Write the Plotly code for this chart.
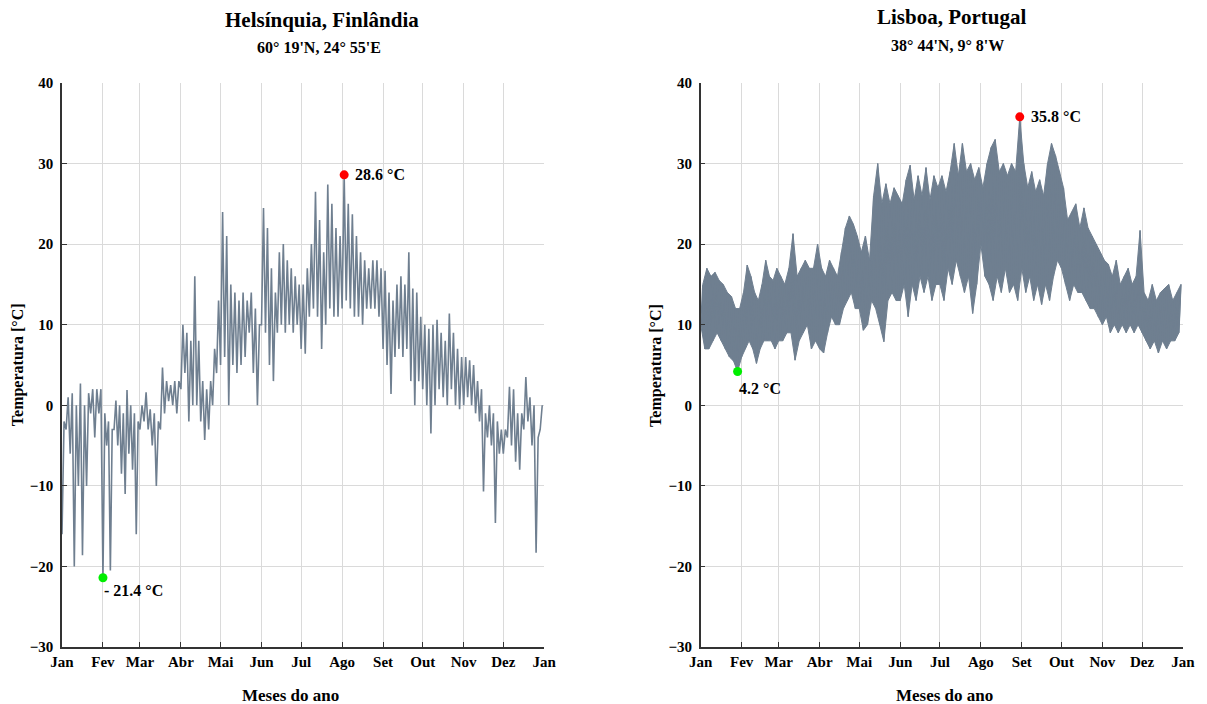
import plotly.graph_objects as go

# ---------------- data ----------------
month_days = [31, 28, 31, 30, 31, 30, 31, 31, 30, 31, 30, 31]
month_labels = ["Jan", "Fev", "Mar", "Abr", "Mai", "Jun", "Jul", "Ago", "Set", "Out", "Nov", "Dez", "Jan"]
y_ticks = [-30, -20, -10, 0, 10, 20, 30, 40]

# Helsinki: low / high envelope, 10 samples per month (~3 days each)
hel_low = [
    [-16, -3, -6, -20, -10, -18.6, -10, -1, -4, -1],        # Jan
    [-21.4, -5, -20.5, -3, -5, -8.5, -11, -6, -8, -16],     # Fev
    [-3, -2, -3, -5, -10, -3, -1, 0.5, 0, -1],              # Mar
    [2, 4, -2, 0, 0, -2, -4.3, -3, 0, 4],                   # Abr
    [5, 6, 0, 5, 4, 5, 6, 9, 4, 0],                         # Mai
    [10, 9, 5, 3, 9, 10, 9, 10, 9, 10],                     # Jun
    [7, 6.4, 11, 12, 11, 7, 10, 12, 11, 11],                # Jul
    [12, 13, 12, 11, 11, 10, 12, 12, 12, 11],               # Ago
    [7, 5, 1.4, 6, 7, 6, 7, 3, 0, 3],                       # Set
    [2, 0, -3.5, 0, 2, 1, 0, 2, 0, -0.5],                   # Out
    [0, 1, 0, -1, -2, -10.7, -4, -5, -14.6, -6],            # Nov
    [-6, -4, -5, -7, -8, -3, -2, -5, -18.3, -3],            # Dez
]
hel_high = [
    [-2, 1, 1.5, 0, 2.7, 0, 1.5, 2, 2, 2],
    [-1, -2, -3, 0.6, 0, -1, 1.9, 0, -1, -2],
    [0, 1.6, -0.5, -1, -2, 4.7, 3, 2.5, 3, 3],
    [10, 9, 8, 16, 8, 3, 2, 3, 7, 13],
    [24, 21, 15, 14, 13, 14, 13, 14, 12, 10],
    [24.5, 22, 17, 14, 19, 20, 18, 17, 16, 15],
    [15, 17, 20, 26.5, 23, 19, 27.4, 25, 22, 21],
    [28.6, 25, 23.7, 21, 19, 18, 17, 18, 18, 17],
    [16.7, 14, 13, 15, 16, 15, 19, 14.5, 14, 11],
    [10, 9.5, 10, 10.6, 9, 8, 11.4, 9, 7, 6],
    [6, 5.6, 5, 3, 2, -1, 0, -1, -2, -3],
    [-3, 2.3, 2, -1, -1, 3.5, 1, 0, -4, 0],
]

# Lisbon: low / high envelope, 10 samples per month
lis_low = [
    [10, 7, 7, 8, 9, 8, 7, 6, 5.5, 4.2],
    [6, 7, 8, 7, 5.2, 7, 8, 8, 8, 7],
    [8, 8, 9, 9, 5.6, 8, 9, 10, 7, 8],
    [7, 6.5, 9, 11, 10, 10, 12, 13, 14, 12],
    [12, 9.3, 10, 13, 12, 10, 7.9, 13, 14, 13],
    [13, 15, 11, 15, 13, 16, 14, 16, 13, 15],
    [15, 13, 17, 15, 18, 16, 14, 16, 11.4, 15],
    [20, 16, 15, 13, 16, 14, 17, 14, 15, 13],
    [17, 14, 16, 13, 15, 12.5, 15, 13, 16, 18],
    [17, 15, 13, 15, 14, 14, 13, 12, 12, 11],
    [10, 11, 9, 10, 9, 10, 9, 10, 9, 10],
    [9, 8, 7, 8, 6.5, 8, 7, 8, 8, 9],
]
lis_high = [
    [15, 17, 16, 16.5, 15.5, 15, 14, 13.5, 12, 12],
    [14, 17.4, 16, 14, 13, 15, 18, 16, 15.5, 17],
    [16, 15, 17, 21.3, 16, 17, 18, 17, 17, 20],
    [17, 16, 18, 17, 16, 19, 22, 23.5, 22.5, 21],
    [19, 21, 18, 26, 30, 25, 27.5, 25, 27, 26],
    [25, 28, 29.8, 25.5, 28.5, 26, 29.5, 25.5, 28.5, 27],
    [28.5, 26.5, 29, 32.5, 28.5, 32.5, 29, 30, 28, 29.5],
    [27, 30, 32, 33, 29, 30, 28.5, 30, 29, 35.8],
    [30, 27, 29, 26.5, 28, 26, 30, 32.5, 31, 29],
    [27, 23, 24, 25, 22, 24.5, 22, 21, 20, 19],
    [18, 17.5, 16, 18, 15, 16, 17, 15, 16, 21.7],
    [14, 13, 15, 13, 14, 14.5, 15, 13, 14, 15],
]

titles = ["Helsínquia, Finlândia", "Lisboa, Portugal"]
subtitles = ["60° 19'N, 24° 55'E", "38° 44'N, 9° 8'W"]

# ---------------- helpers ----------------
month_starts = [0]
for d in month_days:
    month_starts.append(month_starts[-1] + d)


def zigzag(lows, highs):
    xs, ys, xl, xh, vl, vh = [], [], [], [], [], []
    for m, nd in enumerate(month_days):
        step = nd / len(lows[m])
        for i in range(len(lows[m])):
            a = month_starts[m] + i * step
            b = month_starts[m] + (i + 0.5) * step
            xs += [a, b]
            ys += [lows[m][i], highs[m][i]]
            xl.append(a); vl.append(lows[m][i])
            xh.append(b); vh.append(highs[m][i])
    return xs, ys, xl, vl, xh, vh


def fmt(v):
    return ("- " if v < 0 else "") + f"{abs(v):.1f} °C"


LINE = "#6f7f90"
FONT = "Liberation Serif"

fig = go.Figure()
annotations = []

for k, (lows, highs) in enumerate([(hel_low, hel_high), (lis_low, lis_high)]):
    xa = "x" if k == 0 else "x2"
    ya = "y" if k == 0 else "y2"
    xs, ys, xl, vl, xh, vh = zigzag(lows, highs)
    if k == 1:
        # dense daily band: fill between the low and high envelopes
        fig.add_trace(go.Scatter(x=xl + xh[::-1], y=vl + vh[::-1], mode="lines", fill="toself",
                                 fillcolor=LINE, line=dict(color=LINE, width=1),
                                 xaxis=xa, yaxis=ya, showlegend=False, hoverinfo="skip"))
    fig.add_trace(go.Scatter(x=xs, y=ys, mode="lines", xaxis=xa, yaxis=ya,
                             line=dict(color=LINE, width=1.6 if k == 0 else 1.3), showlegend=False,
                             hoverinfo="skip"))
    imax = max(range(len(vh)), key=lambda i: vh[i])
    imin = min(range(len(vl)), key=lambda i: vl[i])
    fig.add_trace(go.Scatter(x=[xh[imax]], y=[vh[imax]], mode="markers", xaxis=xa, yaxis=ya,
                             marker=dict(color="#ff0000", size=9), showlegend=False))
    fig.add_trace(go.Scatter(x=[xl[imin]], y=[vl[imin]], mode="markers", xaxis=xa, yaxis=ya,
                             marker=dict(color="#00ee00", size=9), showlegend=False))
    lab_font = dict(family=FONT, size=16, color="black")
    annotations.append(dict(x=xh[imax], y=vh[imax], xref=xa, yref=ya, text="<b>" + fmt(vh[imax]) + "</b>",
                            showarrow=False, xanchor="left", yanchor="middle", xshift=9, font=lab_font))
    annotations.append(dict(x=xl[imin], y=vl[imin], xref=xa, yref=ya, text="<b>" + fmt(vl[imin]) + "</b>",
                            showarrow=False, xanchor="left", yanchor="top", xshift=-1,
                            yshift=-2 if k == 0 else -7, font=lab_font))

# titles and axis titles (paper coords; plot area 62..1187 x 83..647 px)
def px(xp):
    return (xp - 62) / 1125.0


def py(yp):
    return (647 - yp) / 564.0


title_pos = [(323, 20, 320, 47), (955, 17, 951, 45)]
for k in range(2):
    tx, ty, sx, sy = title_pos[k]
    annotations.append(dict(x=px(tx), y=py(ty), xref="paper", yref="paper", showarrow=False,
                            text="<b>" + titles[k] + "</b>", xanchor="center", yanchor="middle",
                            font=dict(family=FONT, size=21, color="black")))
    annotations.append(dict(x=px(sx), y=py(sy), xref="paper", yref="paper", showarrow=False,
                            text="<b>" + subtitles[k] + "</b>", xanchor="center", yanchor="middle",
                            font=dict(family=FONT, size=16, color="black")))
    ylx = 18 if k == 0 else 658
    annotations.append(dict(x=px(ylx), y=0.5, xref="paper", yref="paper", showarrow=False,
                            text="<b>Temperatura [°C]</b>", textangle=-90, xanchor="center", yanchor="middle",
                            font=dict(family=FONT, size=16, color="black")))
    xlx = 291 if k == 0 else 948
    annotations.append(dict(x=px(xlx), y=py(695), xref="paper", yref="paper", showarrow=False,
                            text="<b>Meses do ano</b>", xanchor="center", yanchor="middle",
                            font=dict(family=FONT, size=17, color="black")))

tickfont = dict(family=FONT, size=15, color="black", weight="bold")
xcommon = dict(range=[0, 365], tickmode="array", tickvals=month_starts, ticktext=month_labels,
               showgrid=True, gridcolor="#dadada", gridwidth=1, zeroline=False,
               showline=True, linecolor="#333333", linewidth=1.5,
               ticks="inside", ticklen=5, tickcolor="#333333", tickfont=tickfont)
ycommon = dict(range=[-30, 40], tickmode="array", tickvals=y_ticks,
               showgrid=True, gridcolor="#dadada", gridwidth=1, zeroline=False,
               showline=True, linecolor="#333333", linewidth=1.5,
               ticks="inside", ticklen=5, tickcolor="#333333", tickfont=tickfont,
               ticklabelstandoff=4)

fig.update_layout(
    width=1207, height=704,
    margin=dict(l=62, r=20, t=83, b=57),
    paper_bgcolor="white", plot_bgcolor="white",
    xaxis=dict(domain=[0, 484 / 1125], anchor="y", **xcommon),
    yaxis=dict(domain=[0, 1], anchor="x", **ycommon),
    xaxis2=dict(domain=[641 / 1125, 1], anchor="y2", **xcommon),
    yaxis2=dict(domain=[0, 1], anchor="x2", **ycommon),
    annotations=annotations,
    showlegend=False,
)

fig.write_html("out.html")
